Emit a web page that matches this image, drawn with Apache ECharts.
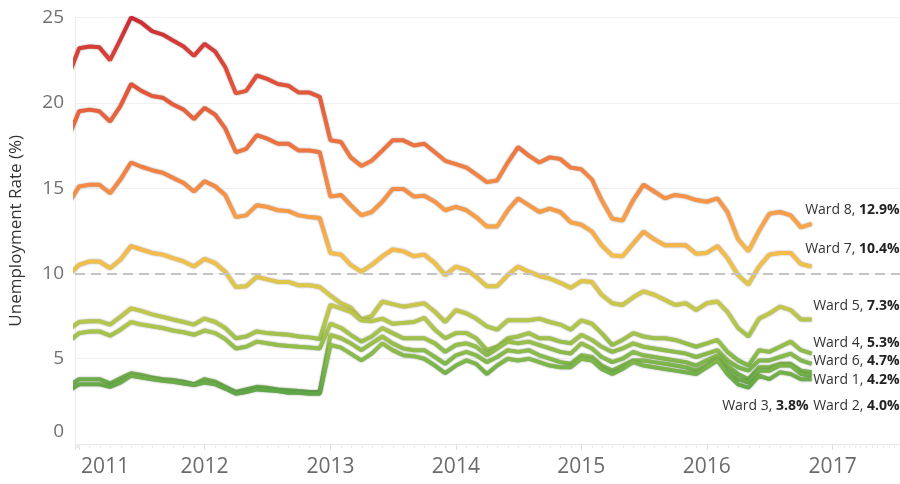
<!DOCTYPE html>
<html>
<head>
<meta charset="utf-8">
<script src="https://cdn.jsdelivr.net/npm/echarts@6/dist/echarts.min.js"></script>
<style>
  html, body { margin: 0; padding: 0; background: #fff; }
  #main { width: 900px; height: 484px; }
</style>
</head>
<body>
<div id="main"></div>
<script>
// months: Dec 2010 .. Nov 2016
var months = ['2010-12'];
for (var yr = 2011; yr <= 2016; yr++) {
    for (var mo = 1; mo <= 12; mo++) {
        if (yr === 2016 && mo > 11) break;
        months.push(yr + '-' + (mo < 10 ? '0' + mo : mo));
    }
}

var ward8 = [21.6,
    23.2, 23.3, 23.25, 22.5, 23.7, 25.0, 24.7, 24.2, 24.0, 23.65, 23.3, 22.75,
    23.45, 23.0, 22.1, 20.55, 20.7, 21.6, 21.4, 21.1, 21.0, 20.6, 20.6, 20.35,
    17.8, 17.7, 16.8, 16.3, 16.6, 17.2, 17.8, 17.8, 17.5, 17.6, 17.1, 16.6,
    16.4, 16.2, 15.8, 15.35, 15.45, 16.5, 17.4, 16.9, 16.5, 16.8, 16.7, 16.2,
    16.1, 15.5, 14.3, 13.2, 13.1, 14.3, 15.2, 14.8, 14.4, 14.6, 14.5, 14.3,
    14.2, 14.4, 13.6, 12.0, 11.3, 12.5, 13.5, 13.6, 13.4, 12.7, 12.9];
var ward7 = [18.0,
    19.5, 19.6, 19.5, 18.9, 19.8, 21.1, 20.7, 20.4, 20.3, 19.9, 19.6, 19.05,
    19.7, 19.3, 18.5, 17.1, 17.3, 18.1, 17.9, 17.6, 17.6, 17.2, 17.2, 17.1,
    14.5, 14.6, 14.0, 13.4, 13.6, 14.2, 14.95, 14.95, 14.5, 14.55, 14.2, 13.7,
    13.9, 13.7, 13.3, 12.75, 12.75, 13.7, 14.4, 14.0, 13.6, 13.8, 13.6, 13.0,
    12.85, 12.45, 11.65, 11.05, 11.0, 11.75, 12.45, 12.0, 11.65, 11.65, 11.65, 11.15,
    11.2, 11.6, 10.9, 9.9, 9.35, 10.4, 11.1, 11.2, 11.2, 10.55, 10.4];
var ward5 = [14.1,
    15.1, 15.2, 15.2, 14.7, 15.5, 16.5, 16.25, 16.05, 15.9, 15.6, 15.3, 14.8,
    15.4, 15.1, 14.6, 13.3, 13.4, 14.0, 13.9, 13.7, 13.65, 13.4, 13.3, 13.25,
    11.2, 11.1, 10.5, 10.1, 10.5, 11.0, 11.4, 11.3, 11.0, 11.1, 10.6, 9.9,
    10.4, 10.2, 9.8, 9.25, 9.25, 9.9, 10.4, 10.1, 9.85, 9.7, 9.45, 9.15,
    9.55, 9.5, 8.75, 8.25, 8.15, 8.6, 8.95, 8.75, 8.45, 8.15, 8.25, 7.85,
    8.25, 8.35, 7.75, 6.8, 6.3, 7.35, 7.65, 8.05, 7.85, 7.3, 7.3];
var ward4 = [9.9,
    10.5, 10.7, 10.7, 10.3, 10.8, 11.6, 11.4, 11.2, 11.1, 10.9, 10.7, 10.4,
    10.85, 10.6, 10.1, 9.2, 9.25, 9.8, 9.65, 9.5, 9.5, 9.3, 9.3, 9.2,
    8.7, 8.25, 8.0, 7.3, 7.5, 8.35, 8.2, 8.05, 8.15, 8.25, 7.75, 7.15,
    7.85, 7.65, 7.35, 6.9, 6.7, 7.25, 7.25, 7.25, 7.35, 7.15, 7.0, 6.7,
    7.25, 7.05, 6.5, 5.8, 6.1, 6.5, 6.3, 6.2, 6.2, 6.1, 5.9, 5.7,
    5.9, 6.1, 5.4, 4.9, 4.6, 5.5, 5.4, 5.7, 6.0, 5.5, 5.3];
var ward6 = [6.7,
    7.15, 7.2, 7.2, 7.0, 7.45, 7.95, 7.8, 7.6, 7.45, 7.3, 7.15, 7.0,
    7.35, 7.15, 6.8, 6.2, 6.3, 6.6, 6.5, 6.45, 6.4, 6.3, 6.25, 6.15,
    8.15, 7.95, 7.75, 7.25, 7.2, 7.35, 7.05, 7.1, 7.15, 7.4, 6.7, 6.2,
    6.5, 6.5, 6.2, 5.5, 5.7, 6.2, 6.3, 6.5, 6.2, 6.2, 6.0, 5.9,
    6.4, 6.1, 5.7, 5.4, 5.6, 5.9, 5.7, 5.6, 5.5, 5.4, 5.3, 5.1,
    5.3, 5.5, 4.9, 4.5, 4.3, 4.9, 4.9, 5.1, 5.3, 4.9, 4.7];
var ward1 = [6.0,
    6.5, 6.6, 6.6, 6.35, 6.7, 7.15, 7.0, 6.9, 6.8, 6.65, 6.55, 6.4,
    6.65, 6.5, 6.15, 5.6, 5.7, 6.0, 5.9, 5.8, 5.75, 5.7, 5.65, 5.6,
    7.05, 6.8, 6.4, 6.0, 6.3, 6.8, 6.5, 6.2, 6.2, 6.2, 5.9, 5.4,
    5.8, 5.9, 5.7, 5.2, 5.6, 6.0, 5.9, 6.0, 5.8, 5.6, 5.4, 5.3,
    5.9, 5.6, 5.1, 4.8, 5.0, 5.4, 5.2, 5.1, 5.0, 4.9, 4.8, 4.6,
    4.9, 5.2, 4.6, 4.1, 3.8, 4.5, 4.5, 4.7, 4.7, 4.3, 4.2];
var ward2 = [3.4,
    3.8, 3.8, 3.8, 3.55, 3.85, 4.15, 4.05, 3.9, 3.8, 3.75, 3.65, 3.5,
    3.8, 3.65, 3.35, 3.05, 3.2, 3.35, 3.3, 3.2, 3.15, 3.1, 3.05, 3.05,
    6.4, 6.2, 5.9, 5.5, 5.9, 6.3, 5.9, 5.6, 5.5, 5.5, 5.1, 4.7,
    5.2, 5.4, 5.2, 4.8, 5.1, 5.5, 5.4, 5.5, 5.2, 5.0, 4.8, 4.7,
    5.2, 5.1, 4.6, 4.3, 4.6, 4.9, 4.9, 4.8, 4.7, 4.6, 4.5, 4.3,
    4.6, 5.0, 4.3, 3.8, 3.6, 4.3, 4.3, 4.6, 4.6, 4.1, 4.0];
var ward3 = [3.1,
    3.5, 3.5, 3.5, 3.35, 3.6, 4.0, 3.9, 3.8, 3.7, 3.65, 3.55, 3.45,
    3.6, 3.5, 3.25, 2.95, 3.05, 3.2, 3.15, 3.1, 3.0, 3.0, 2.95, 2.95,
    5.8, 5.65, 5.3, 4.9, 5.3, 5.9, 5.5, 5.2, 5.15, 5.0, 4.6, 4.15,
    4.6, 4.9, 4.7, 4.1, 4.6, 5.0, 4.9, 5.0, 4.8, 4.6, 4.5, 4.5,
    5.0, 4.9, 4.4, 4.1, 4.4, 4.8, 4.6, 4.5, 4.4, 4.3, 4.2, 4.1,
    4.5, 4.9, 4.1, 3.5, 3.3, 4.0, 3.8, 4.2, 4.1, 3.8, 3.8];

var wardNames = ['Ward 8', 'Ward 7', 'Ward 5', 'Ward 4', 'Ward 6', 'Ward 1', 'Ward 2', 'Ward 3'];
var wardValues = [ward8, ward7, ward5, ward4, ward6, ward1, ward2, ward3];
var yTicks = [0, 5, 10, 15, 20, 25];

// end label shifts (px) so labels sit like the original
var labelShift = [[88, -14], [88, -18], [88, -13], [88, -11], [88, -3], [88, 8], [88, 30], [-3, 27]];

var FONT = 'Open Sans';

var chartDom = document.getElementById('main');
var myChart = echarts.init(chartDom);
var option;

function getOption() {
    var series = wardNames.map(function (name, k) {
        return {
            name: name,
            type: 'line',
            showSymbol: false,
            symbol: 'none',
            z: 3,
            lineStyle: {
                width: 4,
                shadowColor: 'rgba(70,70,70,0.55)',
                shadowBlur: 2
            },
            data: months.map(function (m, i) { return [m + '-01', wardValues[k][i]]; }),
            endLabel: {
                show: true,
                distance: 0,
                align: 'right',
                verticalAlign: 'middle',
                offset: labelShift[k],
                color: '#333',
                fontFamily: FONT,
                fontSize: 14,
                formatter: function (p) {
                    return p.seriesName + ', {b|' + p.value[1].toFixed(1) + '%}';
                },
                rich: {
                    b: { fontWeight: 'bold', fontSize: 14, fontFamily: FONT, color: '#222' }
                }
            }
        };
    });
    // dashed reference line at 10
    series.push({
        type: 'line',
        data: [],
        z: 1,
        markLine: {
            silent: true,
            symbol: 'none',
            label: { show: false },
            lineStyle: { color: '#c4c4c4', width: 2, type: [10, 6] },
            data: [{ yAxis: 10 }]
        }
    });

    option = {
        animation: false,
        grid: { left: 70, right: 0, top: 17.5, bottom: 40 },
        visualMap: {
            show: false,
            type: 'continuous',
            seriesIndex: [0, 1, 2, 3, 4, 5, 6, 7],
            dimension: 1,
            min: 3,
            max: 25,
            inRange: {
                color: ['#5ea646', '#82b94a', '#b0c64b', '#d9c84a', '#f5be4a', '#f8a347',
                        '#f68c45', '#f07840', '#e9663c', '#e2533a', '#d83f37', '#cc2b36']
            }
        },
        xAxis: {
            type: 'time',
            min: '2010-12-20',
            max: '2017-07-16',
            splitNumber: 7,
            minInterval: 365 * 24 * 3600 * 1000,
            axisLine: { show: true, lineStyle: { color: '#e8e8e8', width: 1 } },
            axisTick: { show: true, length: 6, lineStyle: { color: '#e0e0e0' } },
            minorTick: { show: true, splitNumber: 12, length: 4, lineStyle: { color: '#ececec' } },
            splitLine: { show: false },
            axisLabel: {
                align: 'center',
                margin: 13,
                fontSize: 21,
                fontFamily: FONT,
                color: '#6b6b6b',
                formatter: function (v) {
                    var d = new Date(v);
                    if (d.getMonth() !== 0 || d.getDate() !== 1) return '';
                    var y = d.getFullYear();
                    // first year label is pushed right so it stays inside the plot
                    return y === 2011 ? '{f|' + y + '}' : String(y);
                },
                rich: { f: { fontSize: 21, fontFamily: FONT, color: '#6b6b6b', padding: [0, 0, 0, 52] } }
            }
        },
        yAxis: {
            type: 'value',
            min: yTicks[0],
            max: yTicks[yTicks.length - 1],
            interval: 5,
            name: 'Unemployment Rate (%)',
            nameLocation: 'middle',
            nameGap: 50,
            nameTextStyle: { fontSize: 17, fontFamily: FONT, color: '#333' },
            axisLine: { show: true, lineStyle: { color: '#ececec' } },
            axisTick: { show: false },
            splitLine: { lineStyle: { color: '#f0f0f0', width: 1 } },
            axisLabel: {
                margin: 11,
                fontSize: 19,
                fontFamily: FONT,
                color: '#707070',
                formatter: function (v) { return v === 0 ? '{z|0}' : String(v); },
                rich: { z: { fontSize: 19, fontFamily: FONT, color: '#707070', padding: [0, 0, 24, 0] } }
            }
        },
        series: series
    };
    return option;
}

option = getOption();
option && myChart.setOption(option);
</script>
</body>
</html>
